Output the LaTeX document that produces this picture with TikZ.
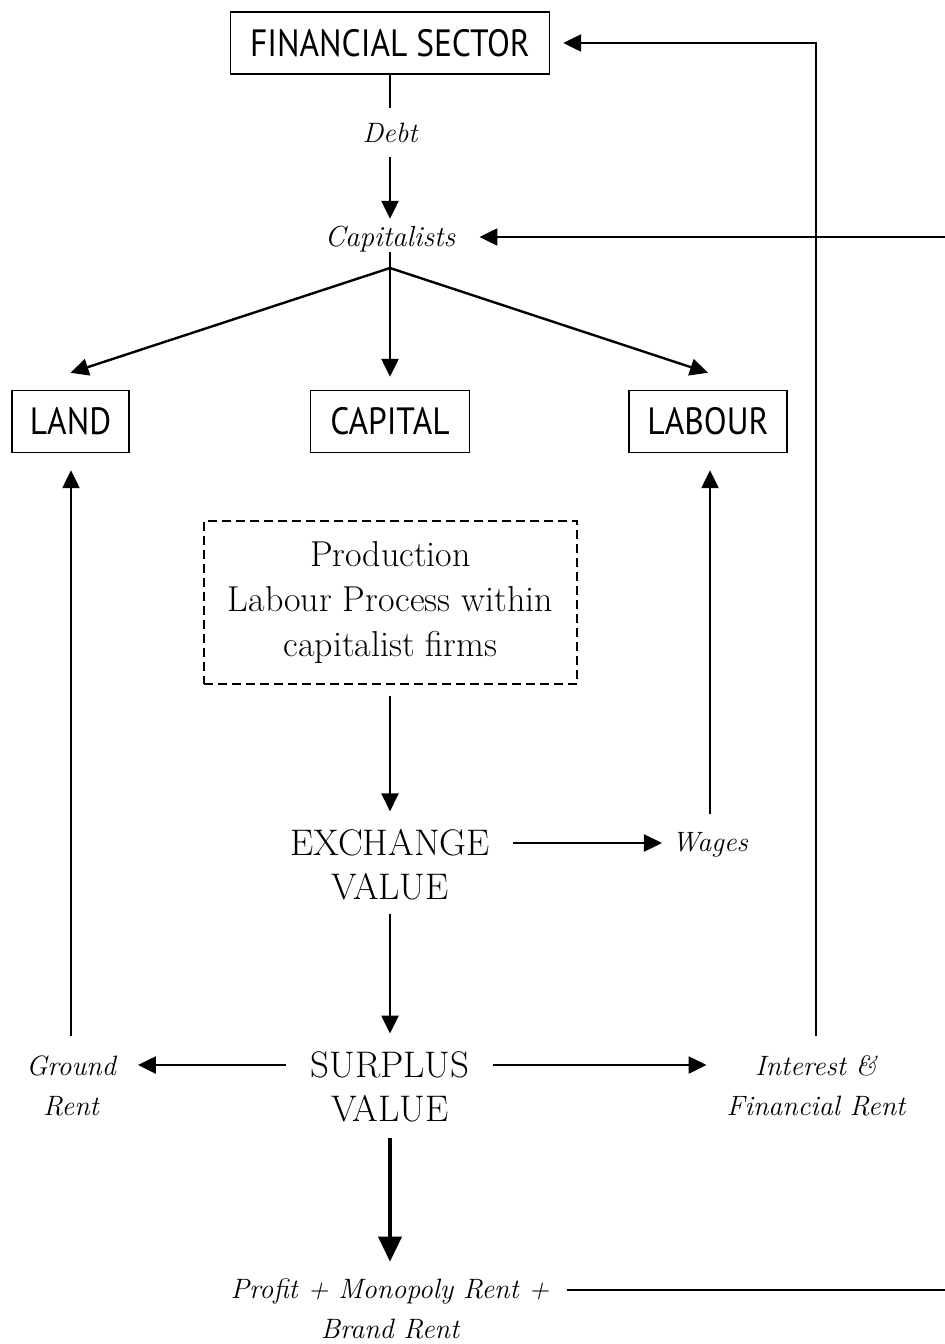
\documentclass[tikz,border=0pt]{standalone}
\usepackage{fontspec}
\newfontfamily\boxfont[FakeStretch=0.88]{PT Sans}
\usetikzlibrary{arrows.meta}
\begin{document}
\begin{tikzpicture}[x=1pt,y=-1pt,
  sbox/.style={draw, line width=1.4pt, font=\boxfont\fontsize{38}{40}\selectfont, minimum height=62pt, inner sep=0pt},
  rtext/.style={font=\fontsize{37}{44}\selectfont, align=center, inner sep=0pt},
  itext/.style={font=\itshape\fontsize{28}{40}\selectfont, align=center, inner sep=0pt},
  pbox/.style={draw, dashed, dash pattern=on 9pt off 5pt, line width=1.4pt, font=\fontsize{36}{45}\selectfont, align=center, minimum width=373pt, minimum height=163pt, inner sep=0pt},
  ln/.style={line width=2.4pt},
  arr/.style={line width=2.4pt, -{Triangle[length=18pt,width=17pt]}},
  bigarr/.style={line width=4pt, -{Triangle[length=25pt,width=23pt]}}]
\useasboundingbox (0,0) rectangle (945,1344);
% nodes
\node[sbox, minimum width=319pt] (fin) at (390,43) {FINANCIAL SECTOR};
\node[itext] (debt) at (390,133) {Debt};
\node[itext, font=\itshape\fontsize{29}{40}\selectfont] (cap) at (390,239) {Capitalists};
\coordinate (split) at (390,268);
\node[sbox, minimum width=117pt] (land) at (70.5,421.5) {LAND};
\node[sbox, minimum width=159pt] (capital) at (390,421.5) {CAPITAL};
\node[sbox, minimum width=158pt] (labour) at (708,421.5) {LABOUR};
\node[pbox] (prod) at (390.5,602.5) {Production\\Labour Process within\\capitalist firms};
\node[rtext] (exch) at (390,865) {EXCHANGE\\VALUE};
\node[itext] (wages) at (710,845) {Wages};
\node[rtext] (surp) at (390,1087) {SURPLUS\\VALUE};
\node[itext] (ground) at (71,1086) {Ground\\Rent};
\node[itext] (interest) at (816,1086) {Interest \&\\Financial Rent};
\node[itext] (profit) at (390,1309) {Profit + Monopoly Rent +\\Brand Rent};
% helper coordinates
\coordinate (eR1) at (945,237);
\coordinate (eR2) at (945,1290);
\coordinate (exR) at ([yshift=22pt]exch.east);
\coordinate (spL) at ([yshift=22pt]surp.west);
\coordinate (spR) at ([yshift=22pt]surp.east);
% connectors
\draw[ln, shorten >=15pt] (fin) -- (debt);
\draw[arr, shorten <=14pt, shorten >=7pt] (debt) -- (cap);
\draw[arr, shorten >=24pt] (eR1) -- (cap.east |- eR1);
\draw[arr] (split) -- ([yshift=17pt]land.north);
\draw[arr] (split) -- ([yshift=13pt]capital.north);
\draw[arr] (split) -- ([yshift=17pt]labour.north);
\draw[ln] (cap.south) -- (split);
\draw[arr, shorten <=20pt, shorten >=17pt] (ground.north) -- (ground.north |- land.south);
\draw[arr, shorten <=18pt, shorten >=17pt] (wages.north) -- (wages.north |- labour.south);
\draw[arr, shorten <=11pt, shorten >=18pt] (prod.south -| exch.north) -- (exch);
\draw[arr, shorten <=23pt, shorten >=10pt] (exR) -- (exR -| wages.west);
\draw[arr, shorten <=13pt, shorten >=18pt] (exch) -- (surp);
\draw[arr, shorten <=24pt, shorten >=22pt] (spL) -- (spL -| ground.east);
\draw[arr, shorten <=23pt, shorten >=20pt] (spR) -- (spR -| interest.west);
\draw[arr, shorten <=20pt, shorten >=13pt] (interest.north) |- (fin.east);
\draw[bigarr, shorten <=16pt, shorten >=17pt] (surp) -- (profit);
\draw[ln, shorten <=17pt] (profit.east |- eR2) -- (eR2);
\end{tikzpicture}
\end{document}
